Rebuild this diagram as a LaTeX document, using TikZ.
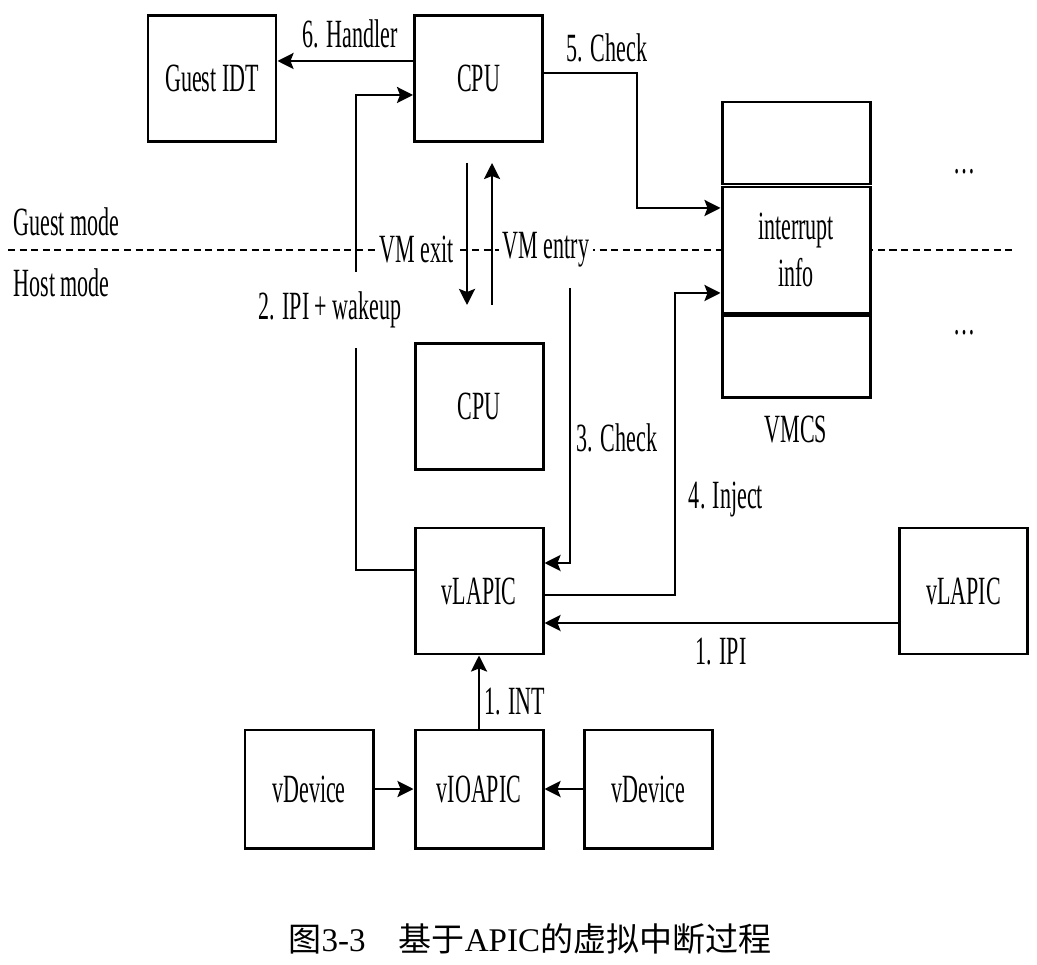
\documentclass[tikz,border=0pt]{standalone}
\usepackage{fontspec}
\setmainfont{Liberation Serif}[FakeStretch=0.55]
\newfontfamily\capfont{Liberation Serif}
\newfontfamily\cjk{Noto Sans CJK SC}
\usepackage{tkz-euclide}
\usetikzlibrary{arrows.meta}

\tikzset{
	box/.style={draw,fill=white,line width=0.85pt,minimum width=1.28cm,minimum height=1.26cm,inner sep=0pt},
	cell/.style={draw,fill=white,line width=0.85pt,minimum width=1.48cm,inner sep=0pt},
	link/.style={line width=0.75pt,-{Stealth[length=1.6mm,width=1.6mm,inset=0.3mm]}},
	cut/.style={fill=white,inner sep=1pt}
}

\begin{document}
\begin{tikzpicture}[font=\fontsize{11.4}{13.4}\selectfont]
		\useasboundingbox (0,0) rectangle (10.37,-9.65);
		\tkzDefPoint(0.08,-2.50){m1}\tkzDefPoint(10.12,-2.50){m2}
		\tkzDefPoint(3.56,-5.70){w1}\tkzDefPoint(3.56,-0.95){w2}
		\tkzDefPoint(4.67,-1.63){e1}\tkzDefPoint(4.67,-3.05){e2}
		\tkzDefPoint(4.92,-3.05){n1}\tkzDefPoint(4.92,-1.63){n2}
		\tkzDefPoint(6.37,-0.73){c1}\tkzDefPoint(6.37,-2.08){c2}
		\tkzDefPoint(5.70,-2.88){k1}\tkzDefPoint(5.70,-5.63){k2}
		\tkzDefPoint(6.75,-5.95){j1}\tkzDefPoint(6.75,-2.93){j2}
		\draw[line width=0.7pt,dash pattern=on 2pt off 1.3pt] (m1) -- (m2);
		\node[anchor=west,inner xsep=0pt] (gm) at (0.13,-2.22) {Guest mode};
		\node[anchor=west,inner xsep=0pt] (hm) at (0.13,-2.83) {Host mode};
		\node[box] (idt) at (2.12,-0.785) {Guest IDT};
		\node[box] (cpu) at (4.785,-0.785) {CPU};
		\node[box] (cpuh) at (4.79,-4.065) {CPU};
		\node[box] (vl) at (4.79,-5.91) {vLAPIC};
		\node[box] (vl2) at (9.635,-5.91) {vLAPIC};
		\node[box,minimum height=1.18cm] (vio) at (4.79,-7.89) {vIOAPIC};
		\node[box,minimum height=1.18cm] (dev1) at (3.09,-7.89) {vDevice};
		\node[box,minimum height=1.18cm] (dev2) at (6.485,-7.89) {vDevice};
		\node[cell,minimum height=1.26cm,align=center] (info) at (7.96,-2.50) {interrupt\\info};
		\node[cell,minimum height=0.82cm,anchor=south] (top) at (info.north) {};
		\node[cell,minimum height=0.82cm,anchor=north] (bot) at (info.south) {};
		\node (vmcs) at (7.96,-4.30) {VMCS};
		\node (dt1) at (9.64,-1.72) {\ldots};
		\node (dt2) at (9.64,-3.33) {\ldots};
		\draw[link] ([yshift=0.175cm]cpu.west) -- ([yshift=0.175cm]idt.east);
		\node (l6) at (3.50,-0.34) {6. Handler};
		\draw[link] (vl.west |- w1) -- (w1) -- (w2) -- (cpu.west |- w2);
		\node[fill=white,inner xsep=1pt,inner ysep=0.2cm] (l2) at (3.30,-3.10) {2. IPI + wakeup};
		\draw[link] (e1) -- (e2);
		\draw[link] (n1) -- (n2);
		\node[cut] (ex) at (4.17,-2.50) {VM exit};
		\node[cut] (en) at (5.46,-2.50) {VM entry};
		\draw[link] (cpu.east |- c1) -- (c1) -- (c2) -- (info.west |- c2);
		\node (l5) at (6.07,-0.48) {5. Check};
		\draw[link] (k1) -- (k2) -- (vl.east |- k2);
		\node (l3) at (6.17,-4.38) {3. Check};
		\draw[link] (vl.east |- j1) -- (j1) -- (j2) -- (info.west |- j2);
		\node (l4) at (7.26,-5.00) {4. Inject};
		\draw[link] ([yshift=-0.32cm]vl2.west) -- ([yshift=-0.32cm]vl.east);
		\node (l1) at (7.21,-6.52) {1. IPI};
		\draw[link] (vio.north) -- (vl.south);
		\node (l0) at (5.15,-7.02) {1. INT};
		\draw[link] (dev1) -- (vio);
		\draw[link] (dev2) -- (vio);
		\node[font=\fontsize{9.4}{11}\selectfont] (cap) at (5.30,-9.39) {{\cjk 图}{\capfont 3-3}\quad{\cjk 基于}{\capfont APIC}{\cjk 的虚拟中断过程}};
	\end{tikzpicture}
\end{document}
